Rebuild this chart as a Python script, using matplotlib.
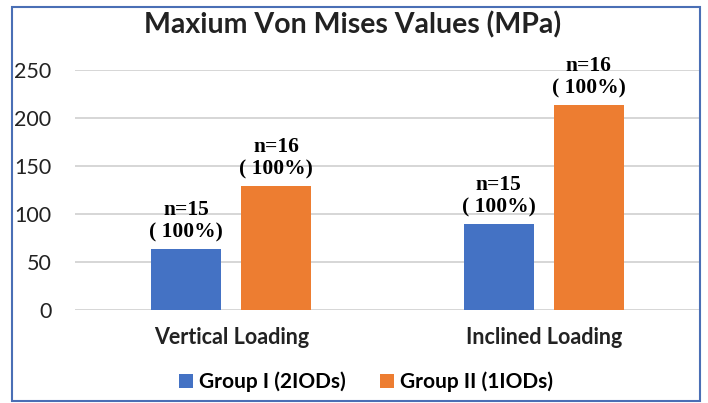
import matplotlib
matplotlib.use("Agg")
import matplotlib.pyplot as plt
from matplotlib.patches import Rectangle
import numpy as np

# ── data ─────────────────────────────────────────────────────────────────────
categories = ["Vertical Loading", "Inclined Loading"]
group_names = ["Group I (2IODs)", "Group II (1IODs)"]
group1 = [63.5, 89.5]
group2 = [129, 213.5]
labels1 = ["n=15\n( 100%)", "n=15\n( 100%)"]
labels2 = ["n=16\n( 100%)", "n=16\n( 100%)"]
yticks = [0, 50, 100, 150, 200, 250]

BLUE, ORANGE = "#4472C4", "#ED7D31"
W, H = 708, 403

fig = plt.figure(figsize=(W / 100, H / 100), dpi=100)
fig.patch.set_facecolor("white")
ax = fig.add_axes([75 / W, 1 - 310 / H, 625 / W, 240 / H])
ax.set_facecolor("white")

x = np.arange(len(categories))
bw = 70 / 312
off = 45 / 312
b1 = ax.bar(x - off, group1, bw, color=BLUE, label=group_names[0], zorder=3)
b2 = ax.bar(x + off, group2, bw, color=ORANGE, label=group_names[1], zorder=3)

for bars, labs in ((b1, labels1), (b2, labels2)):
    for r, lab in zip(bars, labs):
        ax.annotate(lab, (r.get_x() + r.get_width() / 2, r.get_height()),
                    xytext=(0, 5), textcoords="offset points", ha="center", va="bottom",
                    fontsize=15.5, fontweight="bold", family="Liberation Serif",
                    linespacing=1.15, annotation_clip=False)

ax.set_xlim(-0.5, 1.5)
ax.set_ylim(0, 250)
ax.set_yticks(yticks)
ax.set_yticklabels([str(v) for v in yticks], fontsize=15.5, family="Lato", color="#222222")
ax.set_xticks(x)
ax.set_xticklabels(categories, fontsize=15.5, family="Lato", fontweight="bold", color="#222222")
ax.tick_params(length=0)
ax.tick_params(axis="y", pad=17)
ax.tick_params(axis="x", pad=12)
ax.grid(axis="y", color="#d0d0d0", lw=1.2, zorder=0)
for s in ax.spines.values():
    s.set_visible(False)

fig.text(353 / W, 1 - 25 / H, "Maxium Von Mises Values (MPa)", ha="center", va="center",
         fontsize=20.5, fontweight="bold", family="Lato", color="#222222")

fig.legend(handles=[b1, b2], labels=group_names, loc="center", bbox_to_anchor=(366 / W, 1 - 382 / H),
           ncol=2, frameon=False, prop={"family": "Lato", "weight": "bold", "size": 15},
           handlelength=0.7, handleheight=0.7, handletextpad=0.3, columnspacing=1.6)

fig.add_artist(Rectangle((12 / W, 1 - 401 / H), 688 / W, 394 / H, transform=fig.transFigure,
                         fill=False, edgecolor="#4a6fb5", lw=1.5))

fig.savefig("out.png", dpi=100)
